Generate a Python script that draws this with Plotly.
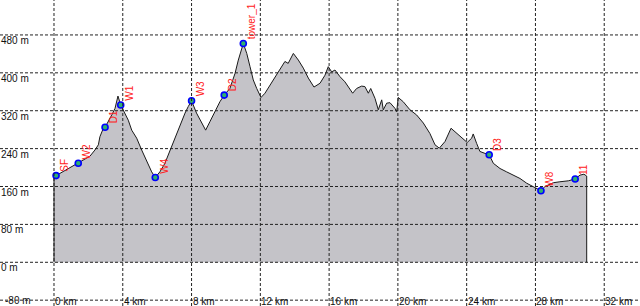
import plotly.graph_objects as go

# Elevation profile (distance in km, elevation in m)
dist_km = [0.00, 0.00, 0.12, 0.74, 1.41, 1.70, 2.09, 2.38, 2.58, 2.67, 2.87, 2.97, 3.16, 3.36, 3.55, 3.65, 3.72,
           3.88, 4.13, 4.32, 4.52, 4.81, 5.10, 5.39, 5.68, 5.89, 6.16, 6.45, 6.65, 6.84, 7.14, 7.43, 7.62,
           7.81, 8.00, 8.29, 8.59, 8.82, 9.07, 9.36, 9.65, 9.90, 10.23, 10.53, 10.72, 11.01, 11.21, 11.40,
           11.59, 11.79, 12.04, 12.27, 12.56, 12.85, 13.14, 13.43, 13.62, 13.92, 14.21, 14.50, 14.79, 15.12,
           15.47, 15.76, 15.95, 16.15, 16.34, 16.53, 16.63, 16.92, 17.11, 17.37, 17.60, 17.89, 18.08, 18.28,
           18.42, 18.67, 18.86, 19.06, 19.15, 19.35, 19.54, 19.83, 19.93, 20.02, 20.31, 20.70, 21.09, 21.48,
           21.86, 22.16, 22.41, 22.74, 23.09, 23.42, 23.71, 24.03, 24.29, 24.38, 24.58, 24.77, 25.06, 25.31,
           25.55, 25.94, 26.32, 26.71, 27.10, 27.49, 27.87, 28.32, 28.55, 29.04, 29.42, 29.91, 30.31, 30.59,
           30.82, 30.98, 30.98]
elev_m = [0, 183, 183, 196, 209, 216, 224, 237, 248, 265, 283, 285, 297, 311, 325, 339, 351,
          332, 315, 300, 279, 262, 237, 212, 191, 179, 191, 209, 227, 244, 272, 300, 315,
          329, 341, 315, 293, 279, 297, 318, 339, 353, 367, 399, 427, 462, 441, 413,
          385, 367, 348, 357, 374, 392, 410, 424, 420, 441, 427, 410, 389, 370,
          378, 395, 413, 402, 406, 395, 392, 381, 371, 357, 367, 372, 371, 357,
          367, 346, 322, 343, 322, 336, 337, 325, 318, 348, 339, 322, 311, 294,
          272, 248, 241, 255, 283, 272, 262, 253, 262, 271, 251, 234, 230, 227,
          209, 198, 191, 184, 177, 167, 160, 151, 160, 168, 170, 172, 176, 184,
          186, 182, 0]

# Waypoints
wp_names = ["SF", "W2", "D1", "W1", "W4", "W3", "D2", "tower_1", "D3", "W8", "11"]
wp_km = [0.12, 1.41, 2.97, 3.88, 5.89, 8.00, 9.90, 11.01, 25.31, 28.32, 30.31]
wp_elev = [183, 209, 285, 332, 179, 341, 353, 462, 227, 151, 176]

# Axis ticks
x_ticks = [0, 4, 8, 12, 16, 20, 24, 28, 32]
y_ticks = [-80, 0, 80, 160, 240, 320, 400, 480]

X_RANGE = [-3.14, 34.08]
Y_RANGE = [-92.3, 553.8]

fig = go.Figure()

fig.add_trace(go.Scatter(
    x=dist_km, y=elev_m, mode="lines",
    line=dict(color="#1a1a1a", width=1),
    fill="tozeroy", fillcolor="#c4c3c8",
    hoverinfo="skip", showlegend=False,
))

fig.add_trace(go.Scatter(
    x=wp_km, y=wp_elev, mode="markers",
    marker=dict(size=6, color="#2fb070", line=dict(color="#0000ff", width=1.6)),
    hoverinfo="skip", showlegend=False,
))

grid_dash = "3px,2px"
shapes = []
for xv in x_ticks:
    shapes.append(dict(type="line", xref="x", yref="paper", x0=xv, x1=xv, y0=0, y1=1,
                       layer="above", line=dict(color="#222222", width=1, dash=grid_dash)))
for yv in y_ticks:
    shapes.append(dict(type="line", xref="paper", yref="y", x0=0, x1=1, y0=yv, y1=yv,
                       layer="above", line=dict(color="#222222", width=1, dash=grid_dash)))

annotations = []
tick_font = dict(family="Liberation Sans, Arial, sans-serif", size=10, color="#111111")
for yv in y_ticks:
    if yv == y_ticks[0]:
        # lowest label sits at the bottom edge of the figure
        annotations.append(dict(x=0, xref="paper", y=0, yref="paper", text=f"{yv} m",
                                showarrow=False, xanchor="left", yanchor="bottom",
                                xshift=3, yshift=-2, font=tick_font))
    else:
        annotations.append(dict(x=0, xref="paper", y=yv, yref="y", text=f"{yv} m",
                                showarrow=False, xanchor="left", yanchor="top",
                                xshift=-1, yshift=2, font=tick_font))
for xv in x_ticks:
    annotations.append(dict(x=xv, xref="x", y=-80, yref="y", text=f"{xv} km",
                            showarrow=False, xanchor="left", yanchor="middle",
                            xshift=-1, yshift=-1, font=tick_font))
lab_font = dict(family="Liberation Sans, Arial, sans-serif", size=10, color="#ff2020")
for name, xk, ye in zip(wp_names, wp_km, wp_elev):
    annotations.append(dict(x=xk, xref="x", y=ye, yref="y", text=name, textangle=-90,
                            showarrow=False, xanchor="left", yanchor="bottom",
                            xshift=1, yshift=2, font=lab_font))

fig.update_layout(
    width=640, height=306,
    margin=dict(l=0, r=0, t=0, b=0),
    paper_bgcolor="white", plot_bgcolor="white",
    xaxis=dict(range=X_RANGE, showgrid=False, zeroline=False, showticklabels=False,
               showline=False, ticks=""),
    yaxis=dict(range=Y_RANGE, showgrid=False, zeroline=False, showticklabels=False,
               showline=False, ticks=""),
    shapes=shapes, annotations=annotations,
)

fig.write_html("out.html")
